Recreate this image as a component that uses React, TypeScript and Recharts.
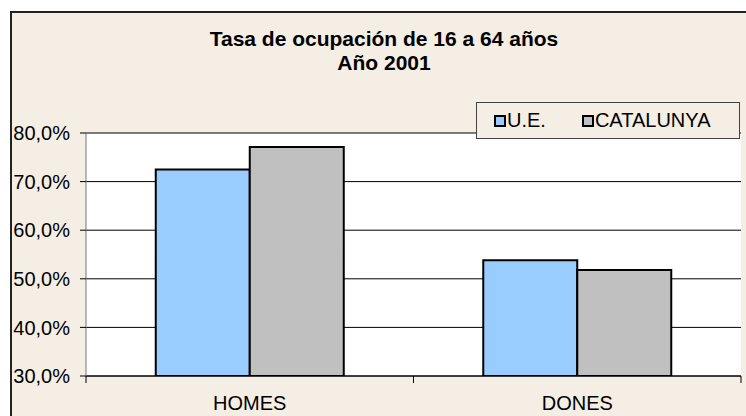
import React from 'react';
import { BarChart, Bar, XAxis, YAxis, CartesianGrid, Legend } from 'recharts';

const categories = ['HOMES', 'DONES'];
const ueValues = [72.5, 53.8];
const catalunyaValues = [77.1, 51.8];
const yTicks = [30, 40, 50, 60, 70, 80];
const seriesNames = ['U.E.', 'CATALUNYA'];
const seriesColors = ['#99CCFF', '#C0C0C0'];
const titleLines = ['Tasa de ocupación de 16 a 64 años', 'Año 2001'];

const data = categories.map((c, i) => ({ name: c, ue: ueValues[i], cat: catalunyaValues[i] }));

const FONT = '"Liberation Sans", Arial, sans-serif';
const BG = '#F4EEE4';

const fmt = (v: number) => v.toFixed(1).replace('.', ',') + '%';

const CategoryTick = (props: any) => {
  const { x, y, payload } = props;
  const half = payload && typeof payload.offset === 'number' ? payload.offset : 0;
  return (
    <g>
      {half > 0 && (
        <>
          <line x1={x - half} x2={x - half} y1={y} y2={y + 7} stroke="#000" strokeWidth={1} />
          <line x1={x + half} x2={x + half} y1={y} y2={y + 7} stroke="#000" strokeWidth={1} />
        </>
      )}
      <text x={x} y={y + 20} dy="0.71em" textAnchor="middle" fill="#000" fontSize={20} fontFamily={FONT}>
        {payload.value}
      </text>
    </g>
  );
};

const renderLegend = (props: any) => {
  const payload = [...(props.payload || [])].sort(
    (a: any, b: any) => seriesNames.indexOf(a.value) - seriesNames.indexOf(b.value)
  );
  return (
    <div
      style={{
        width: 264,
        height: 37,
        boxSizing: 'border-box',
        border: '1.5px solid #444',
        background: BG,
        display: 'flex',
        alignItems: 'center',
        paddingLeft: 17,
        fontFamily: FONT,
        fontSize: 20,
        color: '#000',
      }}
    >
      {payload.map((p: any, i: number) => (
        <div key={i} style={{ display: 'flex', alignItems: 'center', marginRight: i === 0 ? 36 : 0 }}>
          <span
            style={{
              display: 'inline-block',
              width: 12,
              height: 12,
              boxSizing: 'border-box',
              border: '2px solid #000',
              background: p.color,
              marginRight: 1,
            }}
          />
          <span>{p.value}</span>
        </div>
      ))}
    </div>
  );
};

export default function App() {
  return (
    <div
      style={{
        position: 'absolute',
        left: 0,
        top: 0,
        width: 746,
        height: 416,
        overflow: 'hidden',
        background: '#fff',
      }}
    >
      <div
        style={{
          position: 'absolute',
          left: 10,
          top: 11,
          width: 760,
          height: 430,
          border: '2px solid #222',
          background: BG,
        }}
      />
      <div
        style={{
          position: 'absolute',
          left: 0,
          top: 27,
          width: 768,
          textAlign: 'center',
          fontFamily: FONT,
          fontWeight: 'bold',
          fontSize: 21,
          lineHeight: '24px',
          color: '#000',
        }}
      >
        {titleLines.map((t, i) => (
          <div key={i}>{t}</div>
        ))}
      </div>
      <div style={{ position: 'absolute', left: 0, top: 0 }}>
        <BarChart
          width={746}
          height={416}
          data={data}
          margin={{ top: 133, right: 5, bottom: 0, left: 11 }}
          barCategoryGap="21.3%"
          barGap={0}
        >
          <CartesianGrid fill="#fff" vertical={false} stroke="#000" strokeWidth={1} />
          <XAxis
            dataKey="name"
            height={40}
            axisLine={{ stroke: '#000' }}
            tickLine={false}
            tickSize={0}
            tickMargin={0}
            tick={<CategoryTick />}
          />
          <YAxis
            width={75}
            domain={[30, 80]}
            ticks={yTicks}
            tickFormatter={fmt}
            axisLine={{ stroke: '#777' }}
            tickLine={{ stroke: '#000' }}
            tickSize={6}
            tickMargin={10}
            tick={{ fill: '#000', fontSize: 20, fontFamily: FONT }}
            allowDataOverflow
          />
          <Legend
            layout="horizontal"
            verticalAlign="middle"
            align="center"
            content={renderLegend}
            wrapperStyle={{ position: 'absolute', left: 476, top: 102, width: 264, height: 37 }}
          />
          <Bar
            dataKey="ue"
            name={seriesNames[0]}
            fill={seriesColors[0]}
            stroke="#000"
            strokeWidth={2}
            isAnimationActive={false}
          />
          <Bar
            dataKey="cat"
            name={seriesNames[1]}
            fill={seriesColors[1]}
            stroke="#000"
            strokeWidth={2}
            isAnimationActive={false}
          />
        </BarChart>
      </div>
    </div>
  );
}
